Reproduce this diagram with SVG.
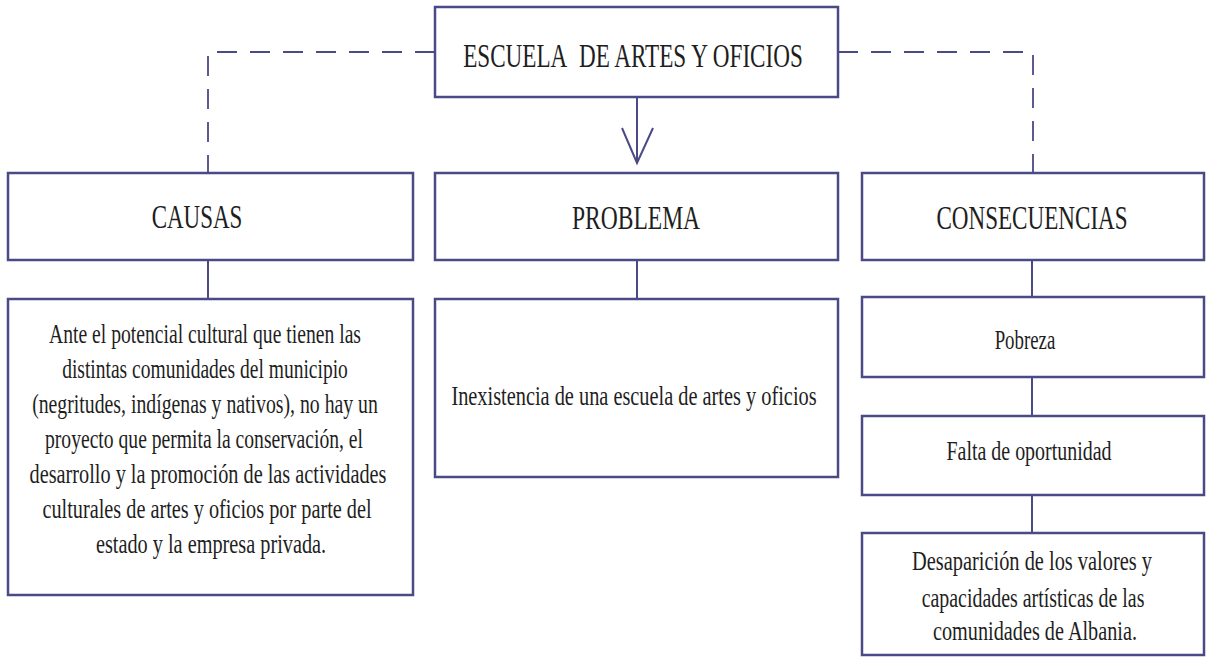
<svg xmlns="http://www.w3.org/2000/svg" width="1208" height="658" viewBox="0 0 1208 658">
<style>
.box{fill:#ffffff;stroke:#4a4a86;stroke-width:2.5}
.t{font-family:"Liberation Serif","Times New Roman",serif;fill:#1e1e1e;text-anchor:middle}
.h{font-size:33px}
.b{font-size:27px}
.c{stroke:#4a4a86;stroke-width:2;fill:none}
.d{stroke:#4a4a86;stroke-width:1.8;fill:none;stroke-dasharray:20 13}
</style>
<rect width="1208" height="658" fill="#ffffff"/>
<g id="connectors">
<path class="d" d="M435 52 H208 V173"/>
<path class="d" d="M838 52 H1033 V173"/>
<path class="c" d="M637 97 V163" stroke-width="2.5"/>
<path class="c" d="M622 128 L637 163 L653 128" stroke-width="2.5"/>
<path class="c" d="M208 260 V299"/>
<path class="c" d="M637 260 V299"/>
<path class="c" d="M1032 260 V297"/>
<path class="c" d="M1032 377 V416"/>
<path class="c" d="M1032 495 V533"/>
</g>
<g id="escuela">
<rect class="box" x="435" y="7" width="403" height="90"/>
<text class="t h" transform="translate(633 67) scale(0.75 1)" x="0" y="0" textLength="453" lengthAdjust="spacingAndGlyphs">ESCUELA&#160; DE ARTES Y OFICIOS</text>
</g>
<g id="causas">
<rect class="box" x="8" y="173" width="405" height="87"/>
<text class="t h" transform="translate(197 228) scale(0.75 1)" x="0" y="0" textLength="121" lengthAdjust="spacingAndGlyphs">CAUSAS</text>
</g>
<g id="problema">
<rect class="box" x="435" y="173" width="403" height="87"/>
<text class="t h" transform="translate(636 229) scale(0.75 1)" x="0" y="0" textLength="171" lengthAdjust="spacingAndGlyphs">PROBLEMA</text>
</g>
<g id="consecuencias">
<rect class="box" x="862" y="173" width="342" height="87"/>
<text class="t h" transform="translate(1032 229) scale(0.75 1)" x="0" y="0" textLength="255" lengthAdjust="spacingAndGlyphs">CONSECUENCIAS</text>
</g>
<g id="causas-detalle">
<rect class="box" x="8" y="299" width="405" height="296"/>
<text class="t b" transform="translate(205 343) scale(0.75 1)" x="0" y="0" textLength="416" lengthAdjust="spacingAndGlyphs">Ante el potencial cultural que tienen las</text>
<text class="t b" transform="translate(205 378) scale(0.75 1)" x="0" y="0" textLength="381" lengthAdjust="spacingAndGlyphs">distintas comunidades del municipio</text>
<text class="t b" transform="translate(205 413) scale(0.75 1)" x="0" y="0" textLength="461" lengthAdjust="spacingAndGlyphs">(negritudes, indígenas y nativos), no hay un</text>
<text class="t b" transform="translate(204 448) scale(0.75 1)" x="0" y="0" textLength="424" lengthAdjust="spacingAndGlyphs">proyecto que permita la conservación, el</text>
<text class="t b" transform="translate(208 483) scale(0.75 1)" x="0" y="0" textLength="476" lengthAdjust="spacingAndGlyphs">desarrollo y la promoción de las actividades</text>
<text class="t b" transform="translate(207 518) scale(0.75 1)" x="0" y="0" textLength="439" lengthAdjust="spacingAndGlyphs">culturales de artes y oficios por parte del</text>
<text class="t b" transform="translate(211 553) scale(0.75 1)" x="0" y="0" textLength="307" lengthAdjust="spacingAndGlyphs">estado y la empresa privada.</text>
</g>
<g id="problema-detalle">
<rect class="box" x="435" y="299" width="403" height="178"/>
<text class="t b" transform="translate(634 405) scale(0.75 1)" x="0" y="0" textLength="487" lengthAdjust="spacingAndGlyphs">Inexistencia de una escuela de artes y oficios</text>
</g>
<g id="pobreza">
<rect class="box" x="862" y="297" width="342" height="80"/>
<text class="t b" transform="translate(1025 349) scale(0.75 1)" x="0" y="0" textLength="81" lengthAdjust="spacingAndGlyphs">Pobreza</text>
</g>
<g id="falta">
<rect class="box" x="862" y="416" width="342" height="79"/>
<text class="t b" transform="translate(1029 460) scale(0.75 1)" x="0" y="0" textLength="220" lengthAdjust="spacingAndGlyphs">Falta de oportunidad</text>
</g>
<g id="desaparicion">
<rect class="box" x="862" y="533" width="342" height="122"/>
<text class="t b" transform="translate(1032 570) scale(0.75 1)" x="0" y="0" textLength="320" lengthAdjust="spacingAndGlyphs">Desaparición de los valores y</text>
<text class="t b" transform="translate(1033 607) scale(0.75 1)" x="0" y="0" textLength="297" lengthAdjust="spacingAndGlyphs">capacidades artísticas de las</text>
<text class="t b" transform="translate(1035 640) scale(0.75 1)" x="0" y="0" textLength="272" lengthAdjust="spacingAndGlyphs">comunidades de Albania.</text>
</g>
</svg>
